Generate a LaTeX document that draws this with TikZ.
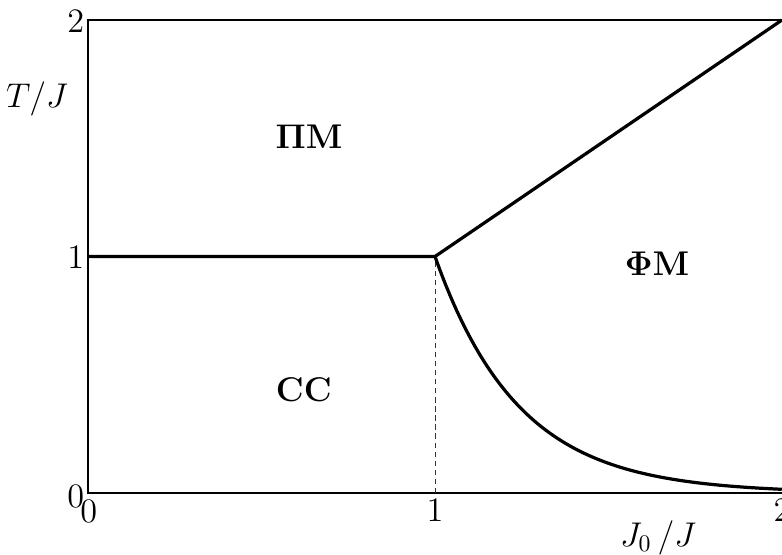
\documentclass[tikz,border=0pt]{standalone}
\usepackage{amsmath,amssymb}
\usepackage{tikz}
\usetikzlibrary{positioning}

\begin{document}
\begin{tikzpicture}[x=5.122cm, y=3.491cm,
  axis/.style={line width=0.75pt},
  phase/.style={line width=1.35pt, line join=round},
  guide/.style={line width=0.4pt, dash pattern=on 2.2pt off 1.6pt, draw=black!80},
  tick/.style={inner sep=0pt, font=\fontsize{14}{17}\selectfont},
  region/.style={font=\Large}]
\useasboundingbox (-0.2536,-0.2579) rectangle (2,2.0846);
% corners and the critical point
\coordinate (orig) at (0,0);
\coordinate (topl) at (0,2);
\coordinate (topr) at (2,2);
\coordinate (botr) at (2,0);
\coordinate (left1) at (0,1);
\coordinate (crit) at (1,1);
\coordinate (foot) at (1,0);
\draw[axis] (botr) -- (orig) -- (topl) -- (topr);
% tick labels
\node[tick] (y2) at (-0.035,1.995) {$2$};
\node[tick] (y1) at (-0.035,0.995) {$1$};
\node[tick] (y0) at (-0.035,-0.013) {$0$};
\node[tick] (x0) at (0.002,-0.076) {$0$};
\node[tick] (x1) at (1,-0.072) {$1$};
\node[tick] (x2) at (2,-0.072) {$2$};
\node[tick] (ylab) at (-0.147,1.665) {$T/J$};
\node[tick] (xlab) at (1.643,-0.19) {$J_0\,/J$};
% phase boundaries
\draw[guide] (foot) -- (crit);
\draw[phase] (left1) -- (crit) -- (topr);
\draw[phase] plot[domain=1:2, samples=80, smooth] (\x,{exp(-4.15*(\x-1))});
% phases
\node[region] (pm) at (0.637,1.505) {$\mathbf{\Pi M}$};
\node[region] (fm) at (1.640,0.968) {$\mathbf{\Phi M}$};
\node[region] (cc) at (0.622,0.436) {$\mathbf{CC}$};
\end{tikzpicture}
\end{document}
